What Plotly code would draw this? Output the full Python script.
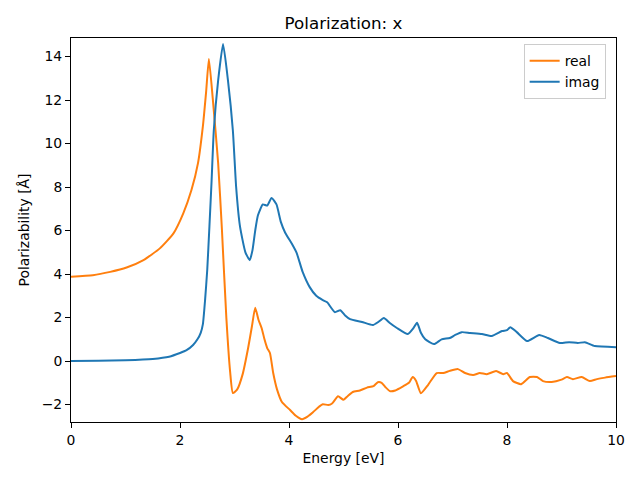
import plotly.graph_objects as go

energy_real = [0, 0.4, 0.72, 1.02, 1.33, 1.63, 1.88, 2.06, 2.21, 2.33, 2.42, 2.48, 2.53, 2.6, 2.7, 2.77,
               2.85, 2.92, 2.97, 3.05, 3.15, 3.25, 3.32, 3.38, 3.44, 3.5, 3.55, 3.6, 3.65, 3.71,
               3.78, 3.87, 4.02, 4.12, 4.24, 4.34, 4.44, 4.55, 4.62, 4.72, 4.79, 4.9, 5.0, 5.08,
               5.17, 5.3, 5.43, 5.55, 5.63, 5.7, 5.77, 5.85, 5.95, 6.1, 6.2, 6.27, 6.33, 6.42,
               6.55, 6.71, 6.83, 6.95, 7.1, 7.23, 7.38, 7.5, 7.63, 7.8, 7.93, 8.0, 8.11, 8.26,
               8.42, 8.55, 8.66, 8.82, 9.0, 9.1, 9.21, 9.37, 9.52, 9.65, 9.8, 10.0]
real = [3.88, 3.95, 4.1, 4.3, 4.64, 5.18, 5.87, 6.79, 7.86, 9.1, 10.8, 12.4, 13.89, 12.1, 9.1, 6.0,
        2.0, -0.5, -1.47, -1.3, -0.6, 0.6, 1.6, 2.45, 1.9, 1.5, 1.0, 0.6, 0.37, -0.55,
        -1.3, -1.88, -2.25, -2.5, -2.67, -2.55, -2.35, -2.1, -1.98, -2.02, -1.95, -1.62, -1.78, -1.6,
        -1.42, -1.35, -1.22, -1.15, -0.97, -1.0, -1.2, -1.38, -1.35, -1.15, -1.0, -0.73, -0.9, -1.48,
        -1.1, -0.55, -0.55, -0.45, -0.37, -0.55, -0.64, -0.55, -0.6, -0.46, -0.6, -0.55, -0.92, -1.06,
        -0.73, -0.73, -0.92, -0.96, -0.85, -0.73, -0.83, -0.73, -0.92, -0.83, -0.76, -0.69]

energy_imag = [0, 0.5, 1.0, 1.5, 1.8, 2.0, 2.12, 2.24, 2.32, 2.38, 2.42, 2.46, 2.5, 2.54, 2.58, 2.62,
               2.7, 2.79, 2.88, 2.97, 3.03, 3.1, 3.2, 3.28, 3.33, 3.38, 3.43, 3.52, 3.6, 3.68,
               3.77, 3.85, 3.93, 4.05, 4.14, 4.25, 4.38, 4.5, 4.62, 4.7, 4.84, 4.94, 5.03, 5.12,
               5.34, 5.54, 5.64, 5.74, 5.85, 5.98, 6.18, 6.28, 6.35, 6.42, 6.5, 6.66, 6.8, 6.95,
               7.05, 7.17, 7.32, 7.54, 7.72, 7.91, 8.0, 8.06, 8.18, 8.37, 8.59, 8.75, 8.97, 9.14,
               9.3, 9.43, 9.61, 10.0]
imag = [0, 0.01, 0.04, 0.1, 0.2, 0.37, 0.5, 0.74, 1.0, 1.3, 1.7, 2.8, 4.2, 6.2, 8.3, 10.6,
        12.9, 14.57, 12.9, 10.6, 8.0, 6.2, 5.0, 4.64, 5.1, 6.0, 6.7, 7.2, 7.15, 7.5,
        7.2, 6.4, 5.9, 5.4, 4.97, 4.1, 3.4, 3.0, 2.8, 2.7, 2.25, 2.34, 2.1, 1.93,
        1.8, 1.66, 1.8, 1.98, 1.75, 1.52, 1.24, 1.5, 1.76, 1.3, 1.0, 0.78, 1.0, 1.06,
        1.2, 1.33, 1.29, 1.24, 1.15, 1.38, 1.42, 1.56, 1.33, 0.92, 1.2, 1.06, 0.83, 0.87,
        0.83, 0.87, 0.69, 0.64]

x_ticks = [0, 2, 4, 6, 8, 10]
y_ticks = [-2, 0, 2, 4, 6, 8, 10, 12, 14]

fig = go.Figure()
fig.add_trace(go.Scatter(x=energy_real, y=real, mode="lines", name="real",
                         line=dict(color="#ff7f0e", width=2, shape="spline", smoothing=0.5)))
fig.add_trace(go.Scatter(x=energy_imag, y=imag, mode="lines", name="imag",
                         line=dict(color="#1f77b4", width=2, shape="spline", smoothing=0.5)))

axis_common = dict(showgrid=False, zeroline=False, showline=True, linecolor="black", linewidth=1,
                   mirror=True, ticks="outside", ticklen=5, tickwidth=1, tickcolor="black",
                   automargin=False, tickfont=dict(size=13.9, color="black"))
fig.update_layout(
    width=624, height=464,
    margin=dict(l=63, r=16, t=30, b=50),
    paper_bgcolor="white", plot_bgcolor="white",
    font=dict(family="DejaVu Sans", color="black"),
    title=dict(text="Polarization: x", x=0.5, xanchor="center", y=0.968, yanchor="middle",
               xref="paper", font=dict(size=16.7)),
    xaxis=dict(range=[0, 10], tickvals=x_ticks,
               title=dict(text="Energy [eV]", font=dict(size=13.9), standoff=6), **axis_common),
    yaxis=dict(range=[-2.8, 14.85], tickvals=y_ticks,
               title=dict(text="Polarizability [Å]", font=dict(size=13.9), standoff=8), **axis_common),
    legend=dict(x=0.981, y=0.984, xanchor="right", yanchor="top", bgcolor="white",
                bordercolor="#cccccc", borderwidth=1, font=dict(size=13.9),
                tracegroupgap=0, itemwidth=30),
    showlegend=True,
)
fig.write_html("out.html")
